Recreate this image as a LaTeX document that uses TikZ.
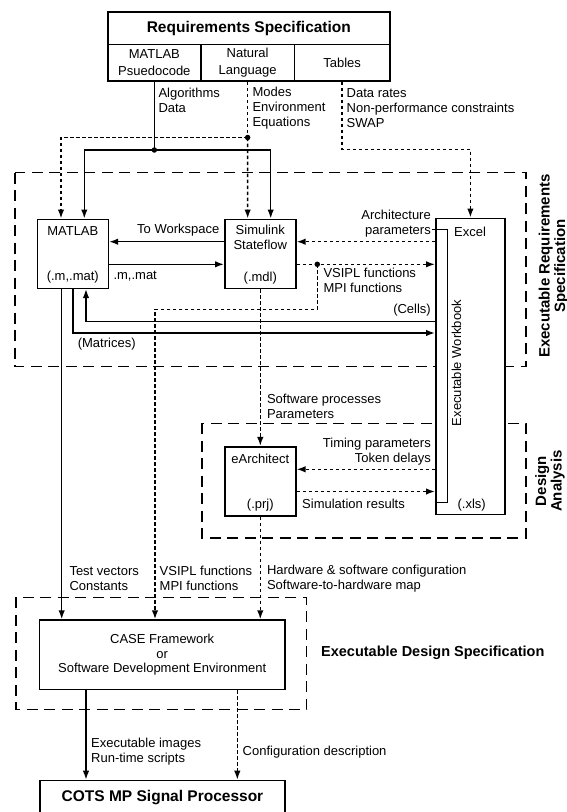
\documentclass[tikz,border=0pt]{standalone}
\usepackage{fontspec}
\setmainfont{Liberation Sans}
\usetikzlibrary{arrows.meta}

\begin{document}
\begin{tikzpicture}[x=1pt, y=-1pt,
        box/.style={draw, line width=1.6pt, fill=white, inner sep=0pt},
        lbl/.style={inner sep=0pt, font=\fontsize{13}{15}\selectfont},
        head/.style={inner sep=0pt, font=\bfseries\fontsize{15}{16}\selectfont},
        line/.style={line width=1.5pt},
        flow/.style={line, -{Latex[length=9pt,width=6.5pt]}},
        dline/.style={line, dash pattern=on 3.5pt off 2.5pt},
        dflow/.style={flow, dash pattern=on 3.5pt off 2.5pt},
        region/.style={line width=1.5pt, dash pattern=on 11pt off 6.5pt},
        dot/.style={circle, fill, inner sep=0pt, minimum size=5.5pt}]
        \useasboundingbox (0,0) rectangle (567,812);
        \clip (0,0) rectangle (567,812);
        % regions
        \draw[region] (15,172.5) rectangle (526,366.7);
        \draw[region] (201.8,423.3) rectangle (526,537.8);
        \draw[region] (16,597.3) rectangle (306.7,709.3);
        \node[head, rotate=90, align=center, font=\bfseries\fontsize{15}{15.5}\selectfont] (erslabel) at (553.5,266) {Executable Requirements\\Specification};
        \node[head, rotate=90, align=center, font=\bfseries\fontsize{15}{15.5}\selectfont] (dalabel) at (550,481) {Design\\Analysis};
        \node[head, anchor=west, font=\bfseries\fontsize{14.5}{16}\selectfont] (edslabel) at (321,653) {Executable Design Specification};
        % requirements table
        \node[box, minimum width=282.3, minimum height=32.6, font=\bfseries\fontsize{15.5}{17}\selectfont] (req) at (248.85,28) {Requirements Specification};
        \node[box, lbl, minimum width=93.3, minimum height=36.7, align=center, font=\fontsize{13}{16.5}\selectfont] (pseudo) at (154.35,62.65) {MATLAB\\Psuedocode};
        \node[box, lbl, minimum width=93.3, minimum height=36.7, align=center, font=\fontsize{13}{16.5}\selectfont] (natural) at (247.65,62.65) {Natural\\Language};
        \node[box, lbl, minimum width=95.7, minimum height=36.7] (tables) at (342.15,62.65) {Tables};
        % tools
        \node[box, minimum width=71, minimum height=69] (matlab) at (72.8,253.8) {};
        \node[box, minimum width=71, minimum height=69] (simulink) at (260.3,253.8) {};
        \node[box, minimum width=71, minimum height=69] (earch) at (260.3,481.2) {};
        \node[box, minimum width=69.2, minimum height=296] (excel) at (470.4,366.3) {};
        \node[box, lbl, minimum width=245.7, minimum height=69.3, align=center, font=\fontsize{13}{14.3}\selectfont] (case) at (162.2,654.7) {CASE Framework\\or\\Software Development Environment};
        \node[box, minimum width=245, minimum height=35, font=\bfseries\fontsize{15.5}{17}\selectfont] (cots) at (162.5,798) {COTS MP Signal Processor};
        \node[lbl] (matlabname) at ([yshift=-12.4]matlab.north) {MATLAB};
        \node[lbl] (matlabext) at ([yshift=11.6]matlab.south) {(.m,.mat)};
        \node[lbl, align=center] (simname) at ([yshift=-19.2]simulink.north) {Simulink\\Stateflow};
        \node[lbl] (simext) at ([yshift=11.2]simulink.south) {(.mdl)};
        \node[lbl] (earchname) at ([yshift=-13.1]earch.north) {eArchitect};
        \node[lbl] (earchext) at ([yshift=11.7]earch.south) {(.prj)};
        \node[lbl] (excelname) at (470,231.7) {Excel};
        \node[lbl] (excelext) at (471.7,505) {(.xls)};
        \draw[line] (431.7,229.3) -| (447.3,502.7) -- (excel.west |- 0,502.7);
        \node[lbl, rotate=90] (workbook) at (456.5,363) {Executable Workbook};
        % junctions
        \node[dot] (alg) at (154.35,150) {};
        \node[dot] (env) at (247.65,137.5) {};
        \node[dot] (vsipl) at (317.3,264.3) {};
        % connectors
        \draw[line] (pseudo.south) -- (alg.center);
        \draw[flow] (alg.center) -| ([xshift=11.5]matlab.north);
        \draw[flow] (alg.center) -| ([xshift=10.4]simulink.north);
        \draw[dline] (natural.south) -- (env.center);
        \draw[dflow] (env.center) -| ([xshift=-11.8]matlab.north);
        \draw[dflow] (env.center) -- ([xshift=-12.65]simulink.north);
        \draw[dflow] (tables.south) -- ++(0,67.5) -| (excel.north);
        \draw[flow] ([yshift=12.1]simulink.west) -- ([yshift=12.1]matlab.east);
        \draw[flow] ([yshift=-10.5]matlab.east) -- ([yshift=-10.5]simulink.west);
        \draw[dflow] (excel.west |- 0,241.7) -- ([yshift=12.1]simulink.east);
        \draw[dflow] ([yshift=-10.5]simulink.east) -- (excel.west |- 0,264.3);
        \draw[dflow] (vsipl.center) -- ++(0,45) -| ([xshift=-7.2]case.north);
        \draw[flow] (excel.west |- 0,321.7) -| ([xshift=13.2]matlab.south);
        \draw[flow] (matlab.south) |- (excel.west |- 0,333);
        \draw[flow] ([xshift=-11.1]matlab.south) -- ([xshift=-11.1]matlab.south |- case.north);
        \draw[dflow] (simulink.south) -- (earch.north);
        \draw[dflow] (excel.west |- 0,469.3) -- ([yshift=11.9]earch.east);
        \draw[dflow] ([yshift=-10.3]earch.east) -- (excel.west |- 0,491.5);
        \draw[dflow] (earch.south) -- (earch.south |- case.north);
        \draw[flow] ([xshift=-76.2]case.south) -- ([xshift=-76.2]case.south |- cots.north);
        \draw[dflow] ([xshift=75.1]case.south) -- ([xshift=75.1]case.south |- cots.north);
        % labels
        \node[lbl, anchor=west, align=left] (lalg) at (158.3,100.8) {Algorithms\\Data};
        \node[lbl, anchor=west, align=left] (lenv) at (252.3,108.3) {Modes\\Environment\\Equations};
        \node[lbl, anchor=west, align=left] (ltab) at (346.5,108.3) {Data rates\\Non-performance constraints\\SWAP};
        \node[lbl, anchor=east] (lws) at (219.5,230) {To Workspace};
        \node[lbl, anchor=west] (lmat) at (113.3,276) {.m,.mat};
        \node[lbl, anchor=east, align=right] (larch) at (431,223.3) {Architecture\\parameters};
        \node[lbl, anchor=west, align=left] (lvsipl) at (323.3,280.8) {VSIPL functions\\MPI functions};
        \node[lbl, anchor=east] (lcells) at (431,310) {(Cells)};
        \node[lbl] (lmatr) at (106.7,344) {(Matrices)};
        \node[lbl, anchor=west, align=left] (lsw) at (266.8,406.7) {Software processes\\Parameters};
        \node[lbl, anchor=east, align=right] (ltime) at (431,452) {Timing parameters\\Token delays};
        \node[lbl, anchor=west] (lsim) at (302,503.8) {Simulation results};
        \node[lbl, anchor=west, align=left] (ltest) at (69.3,578.2) {Test vectors\\Constants};
        \node[lbl, anchor=west, align=left] (lvsipl2) at (159.5,578.2) {VSIPL functions\\MPI functions};
        \node[lbl, anchor=west, align=left] (lhw) at (266.8,578.2) {Hardware \& software configuration\\Software-to-hardware map};
        \node[lbl, anchor=west, align=left] (lexe) at (91,751.5) {Executable images\\Run-time scripts};
        \node[lbl, anchor=west] (lconf) at (242.5,752) {Configuration description};
\end{tikzpicture}
\end{document}
